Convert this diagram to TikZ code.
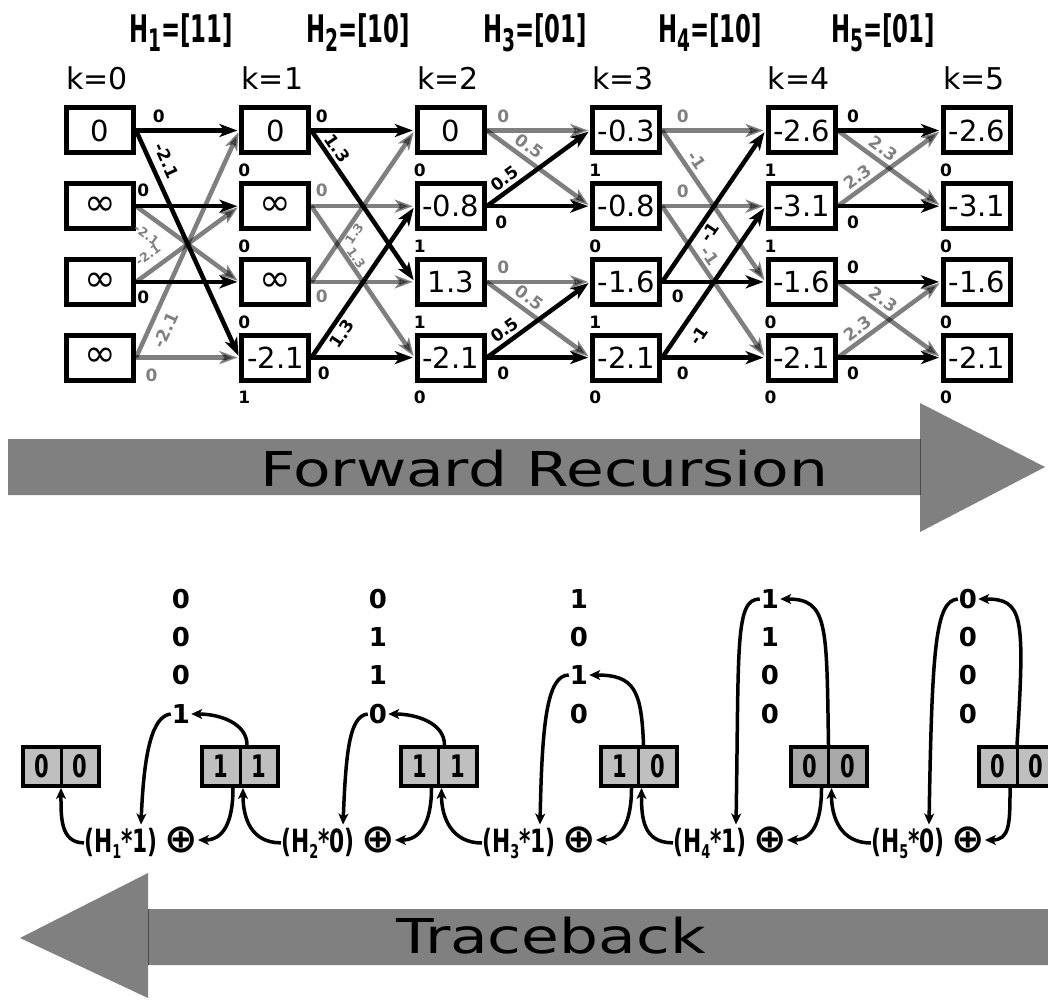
\documentclass[tikz,border=0pt]{standalone}
\usepackage{fontspec}
\setmainfont{DejaVu Sans}
\newfontfamily\hfont{DejaVu Sans}[FakeStretch=0.6]
\newfontfamily\ffont{DejaVu Sans}[FakeStretch=0.68]
\newfontfamily\widefont{DejaVu Sans}[FakeStretch=1.28]
\usetikzlibrary{arrows.meta,calc}
\newcommand\fsz[1]{\fontsize{#1}{#1}\selectfont}
\newcommand\hsub[1]{\raisebox{-9pt}{\fsz{31}#1}}
\newcommand\fsub[1]{\raisebox{-6pt}{\fsz{19}#1}}
\newcommand\infy{{\fsz{38}∞}}
% trellis branch: style, from, to, label options, label
\newcommand\tedge[5]{\draw[#1] (#2.east) -- node[#4] {#5} (#3.west);}
\tikzset{
  tbox/.style={draw, line width=5pt, minimum width=67pt, minimum height=45pt,
    inner sep=0pt, fill=white, font=\fsz{29}},
  klabel/.style={font=\fsz{30}, inner sep=0pt, anchor=base},
  hlabel/.style={font=\hfont\bfseries\fsz{38}, inner sep=0pt, anchor=base},
  blackedge/.style={line width=4.5pt, shorten >=2pt,
    -{Stealth[length=18pt,width=13pt,inset=5pt]}},
  grayedge/.style={blackedge, opacity=0.5},
  elab/.style={font=\bfseries\fsz{17}, inner sep=1pt, text=black},
  glab/.style={elab, text=black!50, text opacity=1},
  slab/.style={glab, font=\bfseries\fsz{12.5}},
  bit/.style={font=\bfseries\fsz{26}, inner sep=1pt},
  reg/.style={draw, line width=4pt, fill=black!25, minimum width=76pt,
    minimum height=39pt, inner sep=0pt, font=\ffont\bfseries\fsz{31}},
  flabel/.style={font=\ffont\bfseries\fsz{32}, inner sep=0pt, anchor=base},
  xorop/.style={font=\bfseries\fsz{40}, inner sep=0pt},
  tb/.style={line width=3.5pt, -{Stealth[length=11pt,width=10pt,inset=3pt]}},
  bigarrow/.style={fill=black!50},
  bigtext/.style={font=\widefont\fsz{48}, inner sep=0pt, text=black}
}
\begin{document}
\begin{tikzpicture}[x=1pt,y=-1pt]
\useasboundingbox (0,0) rectangle (1048,1000);
\clip (0,0) rectangle (1048,1000);

% ---------------- header labels ----------------
\node[hlabel] (h1) at (181,43) {H\hsub{1}=[11]};
\node[hlabel] (h2) at (358,43) {H\hsub{2}=[10]};
\node[hlabel] (h3) at (535,43) {H\hsub{3}=[01]};
\node[hlabel] (h4) at (710,43) {H\hsub{4}=[10]};
\node[hlabel] (h5) at (883,43) {H\hsub{5}=[01]};

% ---------------- trellis states ----------------
\foreach \k/\a/\b/\c/\d in {0/0/\infy/\infy/\infy, 1/0/\infy/\infy/-2.1,
    2/0/-0.8/1.3/-2.1, 3/-0.3/-0.8/-1.6/-2.1, 4/-2.6/-3.1/-1.6/-2.1,
    5/-2.6/-3.1/-1.6/-2.1}{
  \node[klabel] (k\k) at (97+175.4*\k, 90) {k=\k};
  \node[tbox] (s\k0) at (100+175.4*\k, 130.5) {\a};
  \node[tbox] (s\k1) at (100+175.4*\k, 206.2) {\b};
  \node[tbox] (s\k2) at (100+175.4*\k, 281.9) {\c};
  \node[tbox] (s\k3) at (100+175.4*\k, 357.6) {\d};
}
% survivor bits below each state
\foreach \k/\a/\b/\c/\d in {1/0/0/0/1, 2/0/1/1/0, 3/1/0/1/0, 4/1/1/0/0, 5/0/0/0/0}{
  \node[elab] (u\k0) at ($(s\k0.south west)+(5,15)$) {\a};
  \node[elab] (u\k1) at ($(s\k1.south west)+(5,15)$) {\b};
  \node[elab] (u\k2) at ($(s\k2.south west)+(5,15)$) {\c};
  \node[elab] (u\k3) at ($(s\k3.south west)+(5,15)$) {\d};
}

% ---------------- discarded branches ----------------
\tedge{grayedge}{s01}{s12}{slab,pos=.2,sloped,below=9pt}{-2.1}
\tedge{grayedge}{s02}{s11}{slab,pos=.2,sloped,above=7pt}{-2.1}
\tedge{grayedge}{s03}{s13}{glab,pos=.15,below=8pt}{0}
\tedge{grayedge}{s03}{s10}{glab,pos=.15,sloped,below=6pt}{-2.1}

\tedge{grayedge}{s11}{s21}{glab,pos=.1,above=6pt}{0}
\tedge{grayedge}{s11}{s23}{slab,pos=.37,sloped,above=0pt}{1.3}
\tedge{grayedge}{s12}{s22}{glab,pos=.1,below=5pt}{0}
\tedge{grayedge}{s12}{s20}{slab,pos=.35,sloped,below=0pt}{1.3}

\tedge{grayedge}{s20}{s30}{glab,pos=.16,above=5pt}{0}
\tedge{grayedge}{s20}{s31}{glab,pos=.34,sloped,above=3pt}{0.5}
\tedge{grayedge}{s22}{s32}{glab,pos=.16,above=5pt}{0}
\tedge{grayedge}{s22}{s33}{glab,pos=.34,sloped,above=3pt}{0.5}

\tedge{grayedge}{s30}{s40}{glab,pos=.2,above=5pt}{0}
\tedge{grayedge}{s30}{s42}{glab,pos=.24,sloped,above=2pt}{-1}
\tedge{grayedge}{s31}{s41}{glab,pos=.2,above=5pt}{0}
\tedge{grayedge}{s31}{s43}{glab,pos=.37,sloped,above=2pt}{-1}

\tedge{grayedge}{s40}{s51}{glab,pos=.37,sloped,above=3pt}{2.3}
\tedge{grayedge}{s41}{s50}{glab,pos=.26,sloped,above=2pt}{2.3}
\tedge{grayedge}{s42}{s53}{glab,pos=.37,sloped,above=3pt}{2.3}
\tedge{grayedge}{s43}{s52}{glab,pos=.26,sloped,above=2pt}{2.3}

% ---------------- surviving branches ----------------
\tedge{blackedge}{s00}{s10}{elab,pos=.22,above=5pt}{0}
\tedge{blackedge}{s00}{s13}{elab,pos=.16,sloped,above=6pt}{-2.1}
\tedge{blackedge}{s01}{s11}{elab,pos=.07,above=6pt}{0}
\tedge{blackedge}{s02}{s12}{elab,pos=.07,below=6pt}{0}

\tedge{blackedge}{s10}{s20}{elab,pos=.1,above=5pt}{0}
\tedge{blackedge}{s10}{s22}{elab,pos=.16,sloped,above=2pt}{1.3}
\tedge{blackedge}{s13}{s23}{elab,pos=.12,below=6pt}{0}
\tedge{blackedge}{s13}{s21}{elab,pos=.2,sloped,below=2pt}{1.3}

\tedge{blackedge}{s21}{s31}{elab,pos=.14,below=6pt}{0}
\tedge{blackedge}{s21}{s30}{elab,pos=.24,sloped,above=2pt}{0.5}
\tedge{blackedge}{s23}{s33}{elab,pos=.16,below=6pt}{0}
\tedge{blackedge}{s23}{s32}{elab,pos=.24,sloped,above=2pt}{0.5}

\tedge{blackedge}{s32}{s42}{elab,pos=.15,below=5pt}{0}
\tedge{blackedge}{s32}{s40}{elab,pos=.37,sloped,below=2pt}{-1}
\tedge{blackedge}{s33}{s43}{elab,pos=.2,below=6pt}{0}
\tedge{blackedge}{s33}{s41}{elab,pos=.21,sloped,below=8pt}{-1}

\tedge{blackedge}{s40}{s50}{elab,pos=.15,above=5pt}{0}
\tedge{blackedge}{s41}{s51}{elab,pos=.15,below=6pt}{0}
\tedge{blackedge}{s42}{s52}{elab,pos=.15,above=5pt}{0}
\tedge{blackedge}{s43}{s53}{elab,pos=.15,below=6pt}{0}

% ---------------- forward recursion arrow ----------------
\fill[bigarrow] (8,439) -- (920,439) -- (920,403) -- (1045,467) -- (920,532)
  -- (920,495) -- (8,495) -- cycle;
\draw[black!70, line width=0.8pt] (920,439) -- (920,495);
\node[bigtext] (fwd) at (544,469) {Forward Recursion};

% ---------------- traceback ----------------
\foreach \j/\x/\p/\q/\r/\s in {1/181/0/0/0/1, 2/378/0/1/1/0, 3/579/1/0/1/0,
    4/770/1/1/0/0, 5/968/0/0/0/0}{
  \node[bit] (b\j1) at (\x,599) {\p};
  \node[bit] (b\j2) at (\x,637) {\q};
  \node[bit] (b\j3) at (\x,675) {\r};
  \node[bit] (b\j4) at (\x,714) {\s};
  \node[xorop] (o\j) at (\x,840) {⊕};
}
\node[flabel] (f1) at (121,852) {(H\fsub{1}*1)};
\node[flabel] (f2) at (318,852) {(H\fsub{2}*0)};
\node[flabel] (f3) at (519,852) {(H\fsub{3}*1)};
\node[flabel] (f4) at (710,852) {(H\fsub{4}*1)};
\node[flabel] (f5) at (908,852) {(H\fsub{5}*0)};

\foreach \n/\x/\a/\b/\c in {0/61/0/0/25, 1/240/1/1/25, 2/438.5/1/1/25,
    3/638.5/1/0/25, 4/828.5/0/0/34, 5/1017/0/0/25}{
  \node[reg, fill=black!\c] (reg\n) at (\x,766.5)
    {\makebox[38pt]{\a}\makebox[38pt]{\b}};
  \draw[line width=3pt] (reg\n.north) -- (reg\n.south);
}

% state register -> chosen bit
\draw[tb] ($(reg1.north)+(7,0)$) .. controls +(0,-22) and +(28,0) .. (b14.east);
\draw[tb] ($(reg2.north)+(6,0)$) .. controls +(0,-22) and +(28,0) .. (b24.east);
\draw[tb] ($(reg3.north)+(5,0)$) .. controls +(-2,-55) and +(45,0) .. (b33.east);
\draw[tb] ($(reg4.north)+(0,0)$) .. controls +(-2,-120) and +(48,0) .. (b41.east);
\draw[tb] ($(reg5.north)+(0,0)$) .. controls +(8,-130) and +(45,0) .. (b51.east);

% chosen bit -> weighted term
\draw[tb] (b14.west) .. controls +(-18,2) and +(3,-75) .. ($(f1.north)+(20,-3)$);
\draw[tb] (b24.west) .. controls +(-18,2) and +(3,-75) .. ($(f2.north)+(25,-3)$);
\draw[tb] (b33.west) .. controls +(-22,0) and +(2,-100) .. ($(f3.north)+(21,-3)$);
\draw[tb] (b41.west) .. controls +(-25,0) and +(3,-180) .. ($(f4.north)+(26,-3)$);
\draw[tb] (b51.west) .. controls +(-22,2) and +(3,-180) .. ($(f5.north)+(21,-3)$);

% state register -> xor
\foreach \j in {1,...,5}{
  \draw[tb] ($(reg\j.south)+(-7,0)$) .. controls +(0,35) and +(25,0) .. (o\j.east);
}

% result of xor -> previous state register
\draw[tb] (f1.west) .. controls +(-24,0) and +(0,28) .. (reg0.south);
\draw[tb] (f2.west) .. controls +(-30,0) and +(0,30) .. ($(reg1.south)+(3,0)$);
\draw[tb] (f3.west) .. controls +(-30,0) and +(0,30) .. ($(reg2.south)+(3,0)$);
\draw[tb] (f4.west) .. controls +(-30,0) and +(0,30) .. ($(reg3.south)+(3,0)$);
\draw[tb] (f5.west) .. controls +(-30,0) and +(0,30) .. ($(reg4.south)+(3,0)$);

\fill[bigarrow] (1048,909) -- (148,909) -- (148,873) -- (20,938) -- (148,998)
  -- (148,965) -- (1048,965) -- cycle;
\draw[black!70, line width=0.8pt] (148,909) -- (148,965);
\node[bigtext] (tbk) at (551,936) {Traceback};
\end{tikzpicture}
\end{document}
